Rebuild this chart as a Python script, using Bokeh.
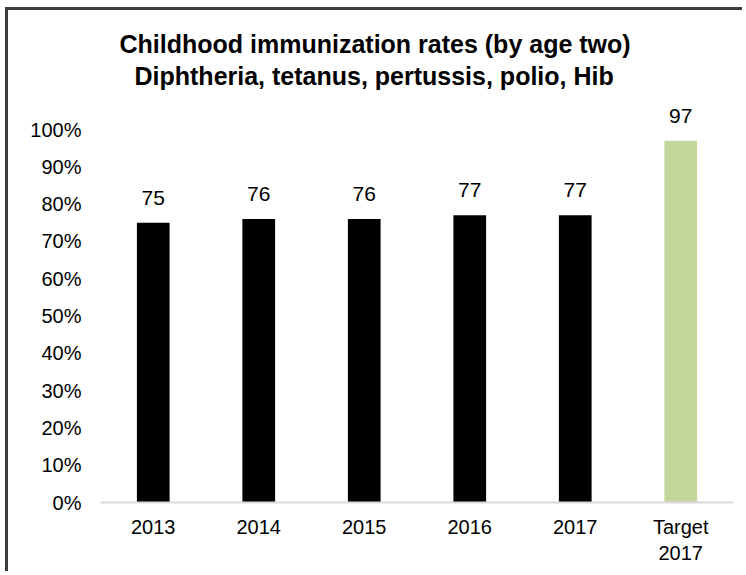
from bokeh.plotting import figure
from bokeh.models import (FactorRange, Range1d, FixedTicker, NumeralTickFormatter,
                          ColumnDataSource, Title)
from bokeh.core.properties import value
from bokeh.embed import file_html
from bokeh.resources import INLINE

# ---- data ----
categories = ["2013", "2014", "2015", "2016", "2017", "Target\n2017"]
rates = [75, 76, 76, 77, 77, 97]
bar_colors = ["#000000", "#000000", "#000000", "#000000", "#000000", "#c4d79b"]
y_ticks = [0, 10, 20, 30, 40, 50, 60, 70, 80, 90, 100]
title_line1 = "Childhood immunization rates (by age two)"
title_line2 = "Diphtheria, tetanus, pertussis, polio, Hib"

FONT = "Liberation Sans"

src = ColumnDataSource(dict(
    cat=categories,
    rate=[r / 100 for r in rates],
    label=[str(r) for r in rates],
    color=bar_colors,
))

W, H = 737, 564
p = figure(width=W, height=H, output_backend="svg", toolbar_location=None,
           x_range=FactorRange(*categories), y_range=Range1d(0, 411 / 373),
           min_border_left=92, min_border_right=12, min_border_bottom=72,
           min_border_top=81)
p.styles = {"margin-left": "5px", "margin-top": "7px",
            "border-left": "3px solid #3c3c3c", "border-top": "3px solid #3c3c3c"}

p.vbar(x="cat", top="rate", width=0.31, color="color", line_color=None, source=src)
p.text(x="cat", y="rate", text="label", source=src, text_align="center",
       text_baseline="alphabetic", y_offset=-25, text_font=value(FONT),
       text_font_size="21px", text_color="#000000")

p.xgrid.visible = False
p.ygrid.visible = False
p.outline_line_color = None

ya = p.yaxis[0]
ya.ticker = FixedTicker(ticks=[t / 100 for t in y_ticks])
ya.formatter = NumeralTickFormatter(format="0%")
ya.axis_line_color = None
ya.major_tick_line_color = None
ya.minor_tick_line_color = None
ya.major_tick_out = 0
ya.major_tick_in = 0
ya.major_label_standoff = 19
ya.major_label_text_font = FONT
ya.major_label_text_font_size = "20px"
ya.major_label_text_color = "#000000"

xa = p.xaxis[0]
xa.axis_line_color = "#d9d9d9"
xa.axis_line_width = 2
xa.major_tick_line_color = None
xa.major_tick_out = 0
xa.major_tick_in = 0
xa.major_label_standoff = 13
xa.major_label_text_font = FONT
xa.major_label_text_font_size = "20px"
xa.major_label_text_color = "#000000"

t2 = Title(text=title_line2, align="left", offset=34, text_font=FONT,
           text_font_size="25px", text_font_style="bold", text_color="#000000",
           standoff=4)
t1 = Title(text=title_line1, align="left", offset=19, text_font=FONT,
           text_font_size="25px", text_font_style="bold", text_color="#000000",
           standoff=0)
p.add_layout(t2, "above")
p.add_layout(t1, "above")

open("out.html", "w").write(file_html(p, INLINE))
